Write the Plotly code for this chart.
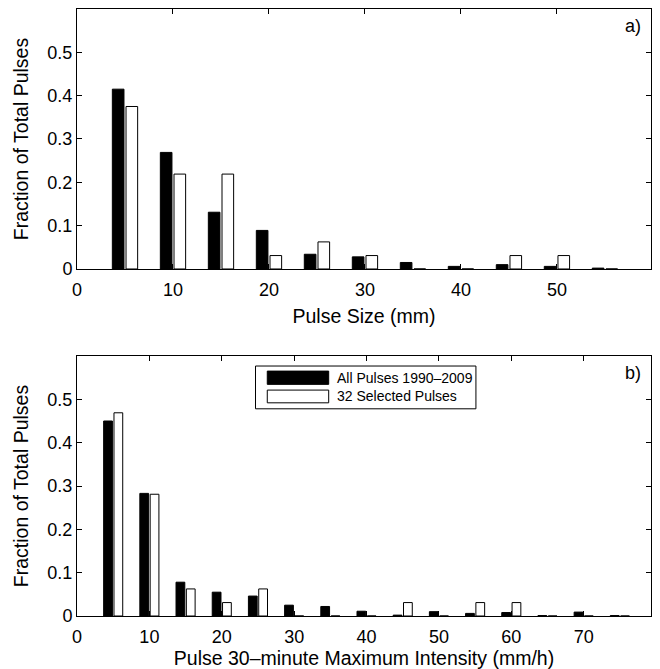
import plotly.graph_objects as go
from plotly.subplots import make_subplots

# Panel a: pulse size bins (mm)
size_bins = [5, 10, 15, 20, 25, 30, 35, 40, 45, 50, 55]
size_all = [0.415, 0.269, 0.131, 0.089, 0.034, 0.028, 0.015, 0.006, 0.010, 0.006, 0.002]
size_sel = [0.375, 0.219, 0.219, 0.031, 0.0625, 0.031, 0.0, 0.0, 0.031, 0.031, 0.0]

# Panel b: pulse 30-minute maximum intensity bins (mm/h)
int_bins = [5, 10, 15, 20, 25, 30, 35, 40, 45, 50, 55, 60, 65, 70, 75]
int_all = [0.450, 0.283, 0.078, 0.055, 0.046, 0.025, 0.022, 0.011, 0.002, 0.010, 0.006, 0.008, 0.001, 0.009, 0.001]
int_sel = [0.469, 0.281, 0.0625, 0.031, 0.0625, 0.0, 0.0, 0.0, 0.031, 0.0, 0.031, 0.031, 0.0, 0.0, 0.0]

name_all = "All Pulses 1990\u20132009"
name_sel = "32 Selected Pulses"

FONT = "Liberation Sans, Arial, sans-serif"
TICK = 18
TITLE = 19.5

fig = make_subplots(rows=2, cols=1, vertical_spacing=0.1)

for row, (xb, ya, ys) in enumerate([(size_bins, size_all, size_sel),
                                    (int_bins, int_all, int_sel)], start=1):
    fig.add_trace(go.Bar(x=xb, y=ya, name=name_all, marker=dict(color="black", line=dict(color="black", width=1)),
                         showlegend=False), row=row, col=1)
    fig.add_trace(go.Bar(x=xb, y=ys, name=name_sel, marker=dict(color="white", line=dict(color="black", width=1)),
                         showlegend=False), row=row, col=1)

axis_common = dict(showline=True, linecolor="black", linewidth=1, mirror="allticks",
                   ticks="inside", ticklen=5, tickcolor="black", showgrid=False, zeroline=False,
                   automargin=False,
                   tickfont=dict(family=FONT, size=TICK, color="black"))

fig.update_layout(
    width=660, height=669,
    margin=dict(l=77, r=9, t=9, b=53),
    plot_bgcolor="white", paper_bgcolor="white",
    barmode="group", bargap=0.43, bargroupgap=0.15,
    font=dict(family=FONT, color="black"),
)

fig.update_xaxes(**axis_common)
fig.update_yaxes(**axis_common)
fig.update_xaxes(ticklabelstandoff=4)

fig.update_xaxes(row=1, col=1, domain=[0, 1], range=[0, 59.8], tickvals=[0, 10, 20, 30, 40, 50],
                 title=dict(text="Pulse Size (mm)", font=dict(family=FONT, size=TITLE), standoff=10))
fig.update_xaxes(row=2, col=1, domain=[0, 1], range=[0, 79.3], tickvals=[0, 10, 20, 30, 40, 50, 60, 70],
                 title=dict(text="Pulse 30\u2013minute Maximum Intensity (mm/h)", font=dict(family=FONT, size=TITLE), standoff=10))
fig.update_yaxes(row=1, col=1, domain=[0.5717, 1.0], range=[0, 0.6], tickvals=[0, 0.1, 0.2, 0.3, 0.4, 0.5],
                 title=dict(text="Fraction of Total Pulses", font=dict(family=FONT, size=TITLE), standoff=13))
fig.update_yaxes(row=2, col=1, domain=[0.0, 0.4283], range=[0, 0.6], tickvals=[0, 0.1, 0.2, 0.3, 0.4, 0.5],
                 title=dict(text="Fraction of Total Pulses", font=dict(family=FONT, size=TITLE), standoff=13))

# panel labels
fig.add_annotation(text="a)", xref="x domain", yref="y domain", x=0.968, y=0.935, showarrow=False,
                   font=dict(family=FONT, size=TICK), xanchor="center", yanchor="middle")
fig.add_annotation(text="b)", xref="x2 domain", yref="y2 domain", x=0.968, y=0.935, showarrow=False,
                   font=dict(family=FONT, size=TICK), xanchor="center", yanchor="middle")

# manual legend in panel b (matches MATLAB-style wide patches)
fig.add_shape(type="rect", xref="x2 domain", yref="y2 domain", x0=0.311, x1=0.695, y0=0.797, y1=0.9615,
              line=dict(color="black", width=1), fillcolor="white", layer="above")
fig.add_shape(type="rect", xref="x2 domain", yref="y2 domain", x0=0.3315, x1=0.4385, y0=0.891, y1=0.942,
              line=dict(color="black", width=1), fillcolor="black", layer="above")
fig.add_shape(type="rect", xref="x2 domain", yref="y2 domain", x0=0.3315, x1=0.4385, y0=0.82, y1=0.869,
              line=dict(color="black", width=1), fillcolor="white", layer="above")
fig.add_annotation(text=name_all, xref="x2 domain", yref="y2 domain", x=0.4495, y=0.9165, showarrow=False,
                   xanchor="left", yanchor="middle", font=dict(family=FONT, size=14))
fig.add_annotation(text=name_sel, xref="x2 domain", yref="y2 domain", x=0.4495, y=0.845, showarrow=False,
                   xanchor="left", yanchor="middle", font=dict(family=FONT, size=14))

fig.write_html("out.html", config={"displayModeBar": False},
               post_script="document.body.style.margin='0';document.body.style.overflow='hidden';")
